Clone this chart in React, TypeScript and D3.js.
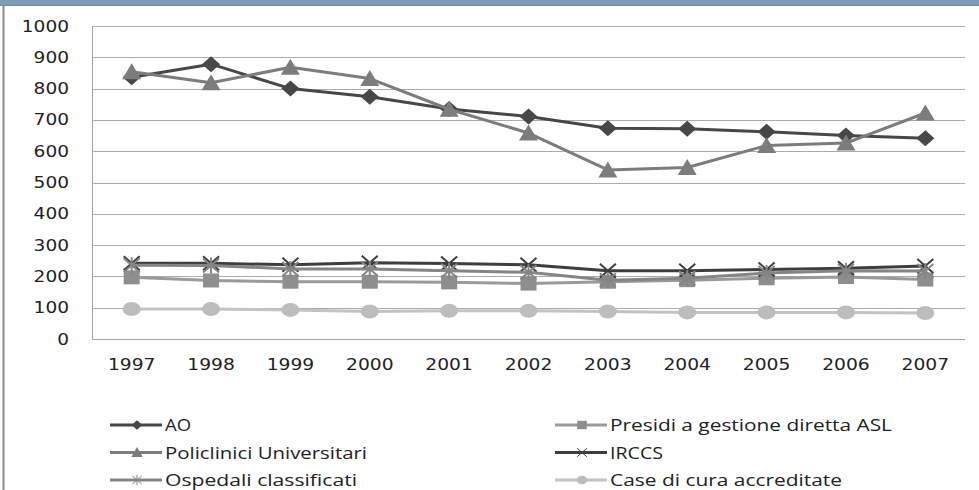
import React from "react";
import * as d3 from "d3";

const years = ["1997","1998","1999","2000","2001","2002","2003","2004","2005","2006","2007"];
const yTicks = [0,100,200,300,400,500,600,700,800,900,1000];

const ao = [836, 878, 800, 774, 735, 711, 673, 672, 662, 650, 641];
const presidi = [197, 187, 183, 183, 181, 177, 183, 188, 194, 198, 190];
const policlinici = [854, 819, 868, 832, 734, 658, 540, 548, 618, 626, 722];
const irccs = [242, 242, 237, 244, 241, 237, 218, 218, 222, 226, 233];
const ospedali = [236, 235, 224, 224, 218, 213, 188, 194, 211, 218, 217];
const caseCura = [96, 96, 93, 88, 90, 90, 88, 85, 85, 85, 83];

const seriesNames = [
  "AO",
  "Presidi a gestione diretta ASL",
  "Policlinici Universitari",
  "IRCCS",
  "Ospedali classificati",
  "Case di cura accreditate",
];

type Shape = "diamond" | "square" | "triangle" | "x" | "star" | "circle";

const series: { name: string; values: number[]; color: string; marker: string; shape: Shape; legendW: number }[] = [
  { name: seriesNames[0], values: ao, color: "#474747", marker: "#474747", shape: "diamond", legendW: 26 },
  { name: seriesNames[1], values: presidi, color: "#9a9a9a", marker: "#8e8e8e", shape: "square", legendW: 282 },
  { name: seriesNames[2], values: policlinici, color: "#7c7c7c", marker: "#7c7c7c", shape: "triangle", legendW: 202 },
  { name: seriesNames[3], values: irccs, color: "#3e3e3e", marker: "#3e3e3e", shape: "x", legendW: 53 },
  { name: seriesNames[4], values: ospedali, color: "#858585", marker: "#858585", shape: "star", legendW: 192 },
  { name: seriesNames[5], values: caseCura, color: "#c3c3c3", marker: "#bdbdbd", shape: "circle", legendW: 232 },
];

function Marker({ shape, cx, cy, color, small }: { shape: Shape; cx: number; cy: number; color: string; small?: boolean }) {
  const k = small ? 0.6 : 1;
  switch (shape) {
    case "diamond": {
      const w = 9 * k, h = 8 * k;
      return <path d={`M${cx},${cy - h}L${cx + w},${cy}L${cx},${cy + h}L${cx - w},${cy}Z`} fill={color} />;
    }
    case "square": {
      const w = 8 * k, h = 7 * k;
      return <rect x={cx - w} y={cy - h} width={2 * w} height={2 * h} fill={color} />;
    }
    case "triangle": {
      const w = 9.5 * k, h = 7.5 * k;
      return <path d={`M${cx},${cy - h - 1}L${cx + w},${cy + h}L${cx - w},${cy + h}Z`} fill={color} />;
    }
    case "x": {
      const w = 8 * k, h = 7 * k;
      return <path d={`M${cx - w},${cy - h}L${cx + w},${cy + h}M${cx + w},${cy - h}L${cx - w},${cy + h}`} stroke={color} strokeWidth={small ? 1 : 2} fill="none" />;
    }
    case "star": {
      const w = 8 * k, h = 7 * k;
      return (
        <path
          d={`M${cx - w},${cy - h}L${cx + w},${cy + h}M${cx + w},${cy - h}L${cx - w},${cy + h}M${cx},${cy - h - 1}L${cx},${cy + h + 1}`}
          stroke={color}
          strokeWidth={small ? 1 : 2}
          fill="none"
        />
      );
    }
    case "circle":
      return <ellipse cx={cx} cy={cy} rx={9 * k} ry={7 * k} fill={color} />;
  }
}

export default function App() {
  const W = 979, H = 490;
  const x = d3.scalePoint<string>().domain(years).range([92, 965]).padding(0.5);
  const y = d3.scaleLinear().domain([0, 1000]).range([339, 26]);
  const line = d3
    .line<number>()
    .x((_, i) => x(years[i]) as number)
    .y((v) => y(v));

  const numFont = "'DejaVu Sans', Verdana, sans-serif";
  const legFont = "'Liberation Sans Narrow', 'Arial Narrow', 'Open Sans', sans-serif";

  const legendPos = series.map((_, i) => ({
    lx: i % 2 === 0 ? 110 : 555,
    ly: 425 + Math.floor(i / 2) * 27.5,
  }));

  return (
    <div style={{ position: "fixed", left: 0, top: 0, width: W, height: H, background: "#fff" }}>
      <svg width={W} height={H} style={{ display: "block" }}>
        <rect x={0} y={0} width={W} height={H} fill="#ffffff" />
        {/* top bar */}
        <rect x={0} y={0} width={W} height={5} fill="#7e9db5" />
        <line x1={0} x2={W} y1={5.5} y2={5.5} stroke="#7a8690" strokeWidth={1} />
        {/* left border */}
        <line x1={3.5} x2={3.5} y1={5} y2={H} stroke="#8c8c8c" strokeWidth={2} />

        {/* grid */}
        {yTicks.map((t) => (
          <line key={t} x1={92} x2={965} y1={Math.round(y(t)) + 0.5} y2={Math.round(y(t)) + 0.5} stroke={t === 0 ? "#a6a6a6" : "#ababab"} strokeWidth={1} />
        ))}
        <line x1={92.5} x2={92.5} y1={26} y2={339.5} stroke="#a6a6a6" strokeWidth={1} />

        {/* y labels */}
        {yTicks.map((t) => (
          <text
            key={t}
            x={69}
            y={y(t) + 5.5}
            textAnchor="end"
            fontFamily={numFont}
            fontSize={16}
            fill="#222"
            textLength={String(t).length * 11.8}
            lengthAdjust="spacingAndGlyphs"
          >
            {t}
          </text>
        ))}

        {/* x labels */}
        {years.map((yr) => (
          <text
            key={yr}
            x={x(yr)}
            y={370}
            textAnchor="middle"
            fontFamily={numFont}
            fontSize={16}
            fill="#222"
            textLength={47.5}
            lengthAdjust="spacingAndGlyphs"
          >
            {yr}
          </text>
        ))}

        {/* series */}
        {series.map((s) => (
          <g key={s.name}>
            <path d={line(s.values) || ""} fill="none" stroke={s.color} strokeWidth={3} strokeLinejoin="round" />
            {s.values.map((v, i) => (
              <Marker key={i} shape={s.shape} cx={x(years[i]) as number} cy={y(v)} color={s.marker} />
            ))}
          </g>
        ))}

        {/* legend */}
        {series.map((s, i) => {
          const { lx, ly } = legendPos[i];
          return (
            <g key={s.name}>
              <line x1={lx} x2={lx + 52} y1={ly} y2={ly} stroke={s.color} strokeWidth={3} />
              <Marker shape={s.shape} cx={lx + 27} cy={ly} color={s.marker} small />
              <text
                x={lx + 55}
                y={ly + 6}
                fontFamily={legFont}
                fontSize={16}
                fill="#222"
                textLength={s.legendW}
                lengthAdjust="spacingAndGlyphs"
              >
                {s.name}
              </text>
            </g>
          );
        })}
      </svg>
    </div>
  );
}
